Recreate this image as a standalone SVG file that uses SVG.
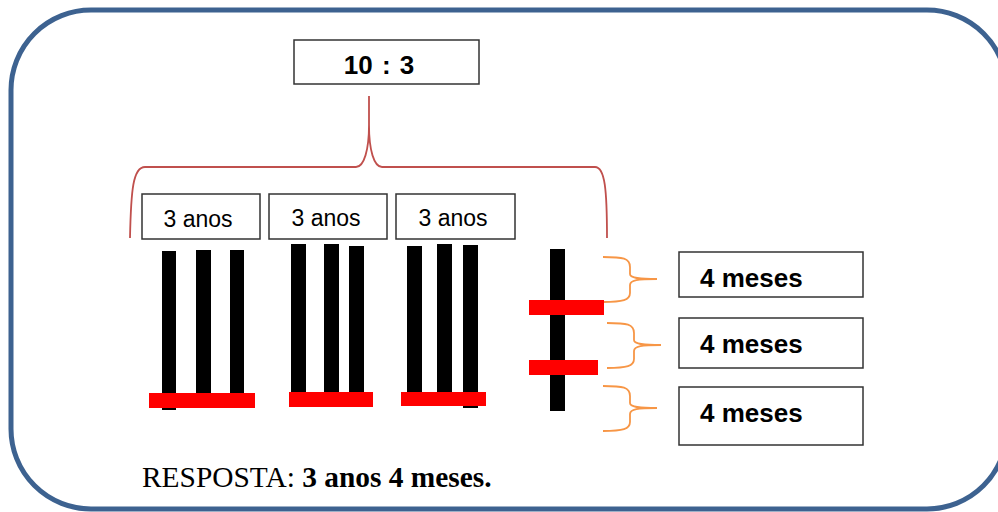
<svg xmlns="http://www.w3.org/2000/svg" xmlns:xlink="http://www.w3.org/1999/xlink" width="998" height="512" viewBox="0 0 998 512">
  <style>
    .box { fill: #ffffff; stroke: #333333; stroke-width: 1.5; }
    .lbl { font-family: "Liberation Sans", Arial, sans-serif; font-size: 23px; fill: #000; }
    .blbl { font-family: "Liberation Sans", Arial, sans-serif; font-size: 26px; font-weight: bold; fill: #000; }
    .bar { fill: #000000; }
    .red { fill: #ff0000; }
    .rbrace { fill: none; stroke: #c0504d; stroke-width: 1.8; }
    .obrace { fill: none; stroke: #f79646; stroke-width: 1.8; }
  </style>
  <defs>
    <path id="ob" d="M0,0 C20,0 27,1 27,10 L27,17 C27,21 35,22 54,22 M54,22 C35,22 27,23 27,28 L27,36 C27,43 20,45 0,45"/>
  </defs>
  <rect width="998" height="512" fill="#ffffff"/>
  <rect id="frame" x="11" y="10" width="996" height="499" rx="80" ry="80" fill="#ffffff" stroke="#3d6290" stroke-width="5"/>

  <g id="total">
    <rect class="box" x="294" y="40" width="185" height="44"/>
    <text class="blbl" x="379" y="74" text-anchor="middle" font-size="24" word-spacing="2">10 : 3</text>
  </g>

  <g id="connectors">
    <path class="rbrace" d="M130,238 C131,190 133,167 145,167 L356,167 C364,167 369,150 369,125 L369,96 M369,125 C369,150 374,167 382,167 L595,167 C605,167 607,190 607,238"/>
    <use href="#ob" xlink:href="#ob" class="obrace" transform="translate(603,257)"/>
    <use href="#ob" xlink:href="#ob" class="obrace" transform="translate(607,323)"/>
    <use href="#ob" xlink:href="#ob" class="obrace" transform="translate(603,386)"/>
  </g>

  <g id="anos1">
    <rect class="box" x="142" y="194" width="118" height="45"/>
    <text class="lbl" x="198" y="227" text-anchor="middle">3 anos</text>
  </g>
  <g id="anos2">
    <rect class="box" x="269" y="194" width="118" height="45"/>
    <text class="lbl" x="326" y="226" text-anchor="middle">3 anos</text>
  </g>
  <g id="anos3">
    <rect class="box" x="396" y="194" width="119" height="45"/>
    <text class="lbl" x="453" y="226" text-anchor="middle">3 anos</text>
  </g>

  <g id="group1">
    <rect class="bar" x="162" y="251" width="14" height="159"/>
    <rect class="bar" x="196" y="250" width="15" height="158"/>
    <rect class="bar" x="230" y="250" width="14" height="158"/>
    <rect class="red" x="149" y="393" width="106" height="15"/>
  </g>
  <g id="group2">
    <rect class="bar" x="291" y="244" width="15" height="150"/>
    <rect class="bar" x="324" y="244" width="15" height="150"/>
    <rect class="bar" x="349" y="246" width="15" height="148"/>
    <rect class="red" x="289" y="392" width="84" height="15"/>
  </g>
  <g id="group3">
    <rect class="bar" x="407" y="246" width="15" height="148"/>
    <rect class="bar" x="437" y="244" width="15" height="150"/>
    <rect class="bar" x="463" y="245" width="15" height="163"/>
    <rect class="red" x="401" y="392" width="85" height="14"/>
  </g>
  <g id="group4">
    <rect class="bar" x="550" y="249" width="15" height="162"/>
    <rect class="red" x="529" y="300" width="75" height="15"/>
    <rect class="red" x="529" y="360" width="69" height="15"/>
  </g>

  <g id="meses1">
    <rect class="box" x="679" y="252" width="184" height="45"/>
    <text class="blbl" x="700" y="287">4 meses</text>
  </g>
  <g id="meses2">
    <rect class="box" x="679" y="318" width="184" height="50"/>
    <text class="blbl" x="700" y="353">4 meses</text>
  </g>
  <g id="meses3">
    <rect class="box" x="679" y="387" width="184" height="58"/>
    <text class="blbl" x="700" y="422">4 meses</text>
  </g>

  <g id="resposta">
    <text x="142" y="487" font-family="'Liberation Serif', 'Times New Roman', serif" font-size="29.4" fill="#000">RESPOSTA: <tspan font-weight="bold">3 anos 4 meses.</tspan></text>
  </g>
</svg>
